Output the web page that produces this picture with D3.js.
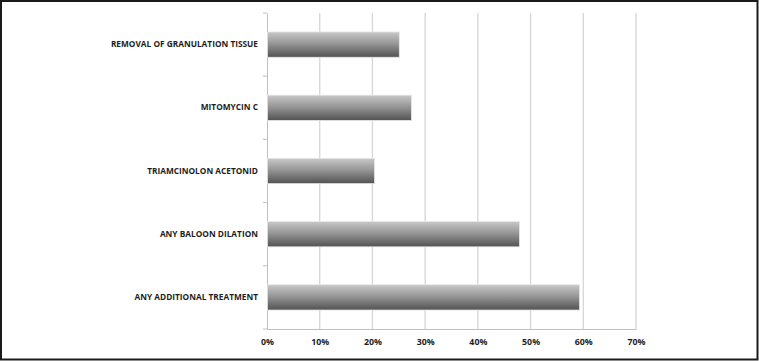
<!DOCTYPE html>
<html><head><meta charset="utf-8">
<script src="https://cdn.jsdelivr.net/npm/d3@7"></script>
<style>body{margin:0;background:#fff}svg{display:block}</style>
</head><body>
<svg id="c" width="759" height="361"></svg>
<script>
const categories = ["REMOVAL OF GRANULATION TISSUE","MITOMYCIN C","TRIAMCINOLON ACETONID","ANY BALOON DILATION","ANY ADDITIONAL TREATMENT"];
const values = [0.25, 0.273, 0.203, 0.478, 0.592];
const tickValues = [0,0.1,0.2,0.3,0.4,0.5,0.6,0.7];

const svg = d3.select("#c");
const W=759,H=361;
svg.append("rect").attr("x",1).attr("y",1).attr("width",W-2.5).attr("height",H-2.5)
  .attr("fill","#fff").attr("stroke","#1a1a1a").attr("stroke-width",2);

const m={l:267,r:123,t:13,b:32};
const x=d3.scaleLinear().domain([0,0.7]).range([m.l,W-m.r]);
const y=d3.scaleBand().domain(categories).range([m.t,H-m.b]).paddingInner(0.6).paddingOuter(0.3);

const defs=svg.append("defs");
const g=defs.append("linearGradient").attr("id","bg").attr("x1",0).attr("y1",0).attr("x2",0).attr("y2",1);
g.append("stop").attr("offset","0%").attr("stop-color","#c8c8c8");
g.append("stop").attr("offset","45%").attr("stop-color","#979797");
g.append("stop").attr("offset","100%").attr("stop-color","#525252");

// gridlines
svg.append("g").selectAll("line").data(tickValues.slice(1)).join("line")
  .attr("x1",d=>x(d)).attr("x2",d=>x(d)).attr("y1",m.t).attr("y2",H-m.b)
  .attr("stroke","#d6d6d6").attr("stroke-width",1.3);

// axes
const ya=svg.append("g").attr("transform",`translate(${m.l},0)`)
  .call(d3.axisLeft(y).tickSize(0).tickPadding(9));
ya.select(".domain").attr("stroke","#bfbfbf");
ya.selectAll("text").attr("font-family","'Open Sans',sans-serif").attr("font-weight",700)
  .attr("font-size","8.3px").attr("fill","#1e1e1e");
// category boundary ticks
const bounds=d3.range(categories.length+1).map(i=>m.t+(H-m.b-m.t)*i/categories.length);
svg.append("g").selectAll("line").data(bounds).join("line")
  .attr("x1",m.l-4).attr("x2",m.l).attr("y1",d=>d).attr("y2",d=>d)
  .attr("stroke","#bfbfbf");

const xa=svg.append("g").attr("transform",`translate(0,${H-m.b})`)
  .call(d3.axisBottom(x).tickValues(tickValues).tickFormat(d3.format(".0%")).tickSize(0).tickPadding(10));
xa.select(".domain").attr("stroke","#bfbfbf");
xa.selectAll("text").attr("font-family","'Open Sans',sans-serif").attr("font-weight",700)
  .attr("font-size","8.8px").attr("fill","#1e1e1e");

// bars
svg.append("g").selectAll("rect").data(categories).join("rect")
  .attr("x",x(0)+0.5).attr("y",d=>y(d)).attr("height",y.bandwidth())
  .attr("width",(d,i)=>x(values[i])-x(0))
  .attr("fill","url(#bg)").attr("stroke","#e6e6e6").attr("stroke-width",0.8);
</script>
</body></html>
